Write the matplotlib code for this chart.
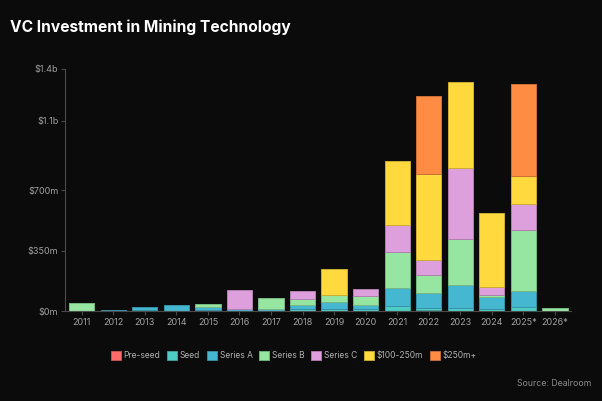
import numpy as np
import matplotlib
matplotlib.use("Agg")
import matplotlib.pyplot as plt
from matplotlib.colors import to_rgb

plt.rcParams['font.family'] = ['Inter', 'DejaVu Sans']

years = ["2011", "2012", "2013", "2014", "2015", "2016", "2017", "2018",
         "2019", "2020", "2021", "2022", "2023", "2024", "2025*", "2026*"]

# $m per round type
pre_seed  = [0, 0, 0, 0, 0, 0, 0, 2, 2, 3, 3, 7, 2, 3, 2, 0]
seed      = [5, 2, 8, 2, 6, 4, 4, 12, 11, 14, 31, 13, 20, 10, 22, 4]
series_a  = [0, 8, 18, 35, 18, 12, 8, 22, 42, 19, 102, 85, 133, 71, 97, 0]
series_b  = [46, 0, 0, 0, 19, 0, 68, 36, 39, 51, 208, 108, 265, 11, 352, 16]
series_c  = [0, 0, 0, 0, 0, 106, 0, 46, 0, 40, 156, 85, 406, 45, 147, 0]
mid_round = [0, 0, 0, 0, 0, 0, 0, 0, 150, 0, 370, 495, 496, 426, 164, 0]
mega      = [0, 0, 0, 0, 0, 0, 0, 0, 0, 0, 0, 452, 0, 0, 528, 0]

series = [
    ("Pre-seed", pre_seed, "#FF6B6B"),
    ("Seed", seed, "#4ECDC4"),
    ("Series A", series_a, "#45B7D1"),
    ("Series B", series_b, "#96E6A1"),
    ("Series C", series_c, "#DDA0DD"),
    ("$100-250m", mid_round, "#FFD93D"),
    ("$250m+", mega, "#FF8C42"),
]

y_ticks = [0, 350, 700, 1100, 1400]
y_labels = ["$0m", "$350m", "$700m", "$1.1b", "$1.4b"]

bg = "#0b0b0b"
fig = plt.figure(figsize=(6.02, 4.01), dpi=100, facecolor=bg)
ax = fig.add_axes([0.1085, 0.2232, 0.8395, 0.6048], facecolor=bg)

x = np.arange(len(years))
bottom = np.zeros(len(years))
for name, vals, col in series:
    vals = np.array(vals, dtype=float)
    edge = tuple(c * 0.8 for c in to_rgb(col))
    edges = [edge if v > 0 else (0, 0, 0, 0) for v in vals]
    widths = [0.7 if v > 0 else 0 for v in vals]
    ax.bar(x, vals, 0.8, bottom=bottom, color=col, edgecolor=edges,
           linewidth=widths, label=name)
    bottom += vals

ax.set_xlim(-0.52, len(years) - 0.5)
ax.set_ylim(0, 1400)
ax.set_xticks(x)
ax.set_xticklabels(years)
ax.set_yticks(y_ticks)
ax.set_yticklabels(y_labels)

for s in ["top", "right"]:
    ax.spines[s].set_visible(False)
for s in ["left", "bottom"]:
    ax.spines[s].set_color("#4a4a4a")
    ax.spines[s].set_linewidth(0.8)
ax.tick_params(axis="both", colors="#4a4a4a", labelcolor="#a0a0a0",
               labelsize=6.5, length=3, width=0.8, pad=2)

fig.text(0.017, 0.92, "VC Investment in Mining Technology", color="white",
         fontsize=11.2, fontweight="bold", ha="left", va="baseline")

leg = fig.legend(loc="center", bbox_to_anchor=(0.488, 0.113), ncol=7,
                 frameon=False, fontsize=6.1, handlelength=1.2,
                 handleheight=1.2, handletextpad=0.35, columnspacing=0.75,
                 labelcolor="#b0b0b0")
for h in leg.legend_handles:
    h.set_linewidth(0.6)
    h.set_edgecolor(tuple(c * 0.8 for c in to_rgb(h.get_facecolor())))

fig.text(0.983, 0.043, "Source: Dealroom", color="#8a8a8a", fontsize=6.3,
         ha="right", va="center")

plt.savefig("out.png", dpi=100, facecolor=bg)
plt.close()
